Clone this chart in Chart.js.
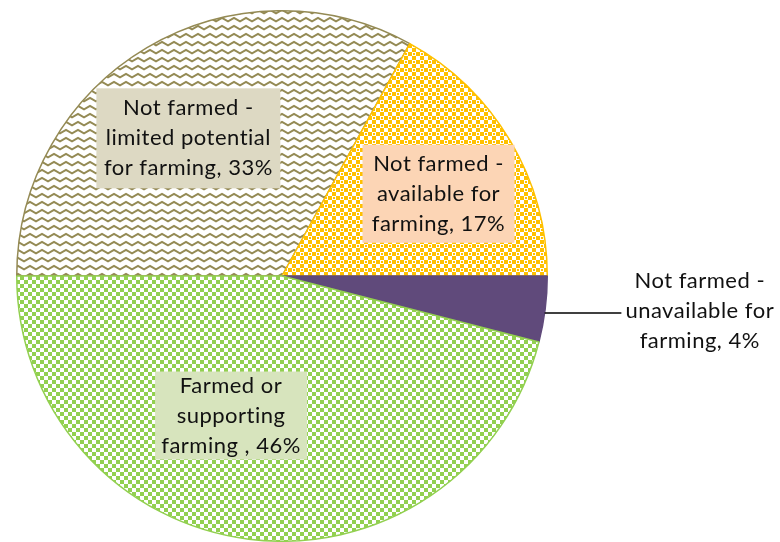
<!DOCTYPE html>
<html>
<head>
<meta charset="utf-8">
<script src="https://cdn.jsdelivr.net/npm/chart.js@4.4.0/dist/chart.umd.min.js"></script>
<style>
  html, body { margin: 0; padding: 0; background: #fff; }
</style>
</head>
<body>
<canvas id="landChart" width="780" height="542"></canvas>
<script>
// land use shares (%), clockwise from 9 o'clock
const categories = [
	"Not farmed - limited potential for farming",
	"Not farmed - available for farming",
	"Not farmed - unavailable for farming",
	"Farmed or supporting farming",
];
const shares = [33, 17, 4, 46];
// label text, the last line gets the share appended
const labelLines = [
	["Not farmed -", "limited potential", "for farming, "],
	["Not farmed -", "available for", "farming, "],
	["Not farmed -", "unavailable for", "farming, "],
	["Farmed or", "supporting", "farming , "],
];

const canvas = document.getElementById("landChart");
const ctx = canvas.getContext("2d");

function makePattern(w, h, draw) {
	const tile = document.createElement("canvas");
	tile.width = w;
	tile.height = h;
	draw(tile.getContext("2d"));
	return ctx.createPattern(tile, "repeat");
}

// olive zigzag on white
const zigzag = makePattern(12, 8, (g) => {
	g.fillStyle = "#ffffff";
	g.fillRect(0, 0, 12, 8);
	g.strokeStyle = "#948a54";
	g.lineWidth = 2;
	g.beginPath();
	g.moveTo(-1, 6);
	g.lineTo(6, 2);
	g.lineTo(13, 6);
	g.stroke();
});

// orange with white blocks
const dots = makePattern(8, 8, (g) => {
	g.fillStyle = "#ffc000";
	g.fillRect(0, 0, 8, 8);
	g.fillStyle = "#ffffff";
	g.fillRect(0, 0, 4, 4);
	g.fillRect(4, 4, 4, 4);
	g.fillStyle = "#ffc000";
	g.fillRect(5, 5, 2, 2);
});

// green checkerboard
const checker = makePattern(8, 8, (g) => {
	g.fillStyle = "#ffffff";
	g.fillRect(0, 0, 8, 8);
	g.fillStyle = "#92d050";
	g.fillRect(0, 0, 4, 4);
	g.fillRect(4, 4, 4, 4);
});

// label placement, as a fraction of the radius from the pie centre
const labelBoxes = [
	{ dx: -0.353, dy: -0.519, w: 184, h: 100, fill: "#ddd9c3" },
	{ dx: 0.59, dy: -0.31, w: 152, h: 98, fill: "#fcd5b5" },
	{ dx: 1.575, dy: 0.132, fill: null, leader: true },
	{ dx: -0.192, dy: 0.526, w: 152, h: 88, fill: "#d7e4bd" },
];

const sliceLabels = {
	id: "sliceLabels",
	afterDatasetsDraw(chart) {
		const arcs = chart.getDatasetMeta(0).data;
		const c = chart.ctx;
		const cx = arcs[0].x;
		const cy = arcs[0].y;
		const r = arcs[0].outerRadius;
		c.save();
		c.font = "22px Lato";
		c.letterSpacing = "0.5px";
		c.textAlign = "center";
		c.textBaseline = "middle";
		labelBoxes.forEach((box, i) => {
			const x = cx + box.dx * r;
			const y = cy + box.dy * r;
			if (box.fill) {
				c.fillStyle = box.fill;
				c.fillRect(x - box.w / 2, y - box.h / 2, box.w, box.h);
			}
			const lines = labelLines[i].slice();
			lines[2] = lines[2] + shares[i] + "%";
			if (box.leader) {
				const ly = y + 2;
				const left = x - c.measureText(lines[1]).width / 2 - 4;
				c.strokeStyle = "#000000";
				c.lineWidth = 1.5;
				c.beginPath();
				c.moveTo(cx + Math.sqrt(r * r - (ly - cy) * (ly - cy)), ly);
				c.lineTo(left, ly);
				c.stroke();
			}
			c.fillStyle = "#111111";
			lines.forEach((t, k) => {
				c.fillText(t, x, y + (k - 1) * 30);
			});
		});
		c.restore();
	},
};

const landChart = new Chart(ctx, {
	type: "pie",
	data: {
		labels: categories,
		datasets: [
			{
				data: shares,
				backgroundColor: [zigzag, dots, "#604a7b", checker],
				borderColor: ["#948a54", "#ffc000", "#604a7b", "#92d050"],
				borderWidth: 1.5,
			},
		],
	},
	options: {
		responsive: false,
		animation: false,
		rotation: -90,
		layout: { padding: { left: 16, right: 232, top: 10, bottom: 0 } },
		plugins: {
			legend: { display: false },
			tooltip: { enabled: false },
		},
	},
	plugins: [sliceLabels],
});
</script>
</body>
</html>
